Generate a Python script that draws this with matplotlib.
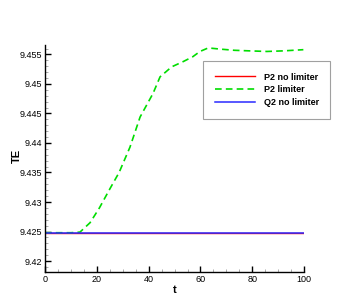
import numpy as np
import matplotlib.pyplot as plt
from matplotlib.ticker import MultipleLocator, FuncFormatter

plt.rcParams['font.family'] = ['Liberation Sans', 'DejaVu Sans']

# values
t_flat = [0, 100]
te_p2_nolim = [9.4248, 9.4248]
te_q2_nolim = [9.4248, 9.4248]

t_lim = [0, 5, 10, 13.5, 17.4, 21, 25, 28.6, 32.8, 36.7, 41.7, 44.4, 48.9,
         53.4, 57, 59.8, 63, 67.6, 73, 79, 85.6, 92, 99.7]
te_lim = [9.4248, 9.4248, 9.4248, 9.4249, 9.4265, 9.4290, 9.4322, 9.4350,
          9.4393, 9.4444, 9.4484, 9.4512, 9.4529, 9.4538, 9.4546, 9.4555,
          9.4561, 9.4559, 9.4557, 9.4556, 9.4555, 9.4556, 9.4558]

fig = plt.figure(figsize=(3.46, 3.08), dpi=100)
ax = fig.add_axes([0.130, 0.116, 0.749, 0.738])

ax.plot(t_flat, te_p2_nolim, color='#ff0000', lw=1.0, label='P2 no limiter')
ax.plot(t_lim, te_lim, color='#00dd00', lw=1.2, ls=(0, (4, 2.5)), label='P2 limiter')
ax.plot(t_flat, te_q2_nolim, color='#2a2aff', lw=1.1, label='Q2 no limiter')

ax.set_xlim(0, 100)
ax.set_ylim(9.4181, 9.4566)

for s in ['top', 'right']:
    ax.spines[s].set_visible(False)
for s in ['left', 'bottom']:
    ax.spines[s].set_linewidth(1.0)

ax.xaxis.set_major_locator(MultipleLocator(20))
ax.xaxis.set_minor_locator(MultipleLocator(5))
ax.yaxis.set_major_locator(MultipleLocator(0.005))
ax.yaxis.set_minor_locator(MultipleLocator(0.001))
ax.yaxis.set_major_formatter(FuncFormatter(lambda v, p: '%g' % round(v, 4)))
ax.tick_params(which='major', direction='in', length=4, width=1.0, labelsize=6.5, pad=2)
ax.tick_params(which='minor', direction='in', length=2.5, width=0.5, color='#888888')

ax.set_xlabel('t', fontsize=8, fontweight='bold', labelpad=1)
ax.set_ylabel('TE', fontsize=8, fontweight='bold')
ax.yaxis.set_label_coords(-0.09, 0.51)

leg = ax.legend(loc='upper left', bbox_to_anchor=(0.610, 0.93), frameon=True, fancybox=False,
                prop={'size': 6.5, 'weight': 'bold'}, handlelength=4.4, handletextpad=1.0,
                borderpad=1.3, labelspacing=0.4, borderaxespad=0)
leg.get_frame().set_edgecolor('#888888')
leg.get_frame().set_linewidth(0.8)

fig.savefig('out.png', dpi=100)
